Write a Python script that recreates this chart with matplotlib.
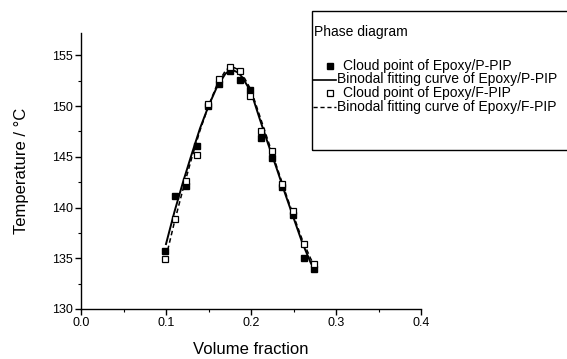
#Import Requirements
import numpy as np
import matplotlib
matplotlib.use("Agg")
import matplotlib.pyplot as plt
from matplotlib.lines import Line2D
from matplotlib.patches import Rectangle

plt.rcParams['font.family'] = ['Liberation Sans', 'DejaVu Sans']

#Data
vol = [0.099, 0.111, 0.124, 0.137, 0.149, 0.162, 0.175, 0.187,
       0.199, 0.212, 0.225, 0.237, 0.249, 0.262, 0.274]
cloud_p = [135.7, 141.1, 142.1, 146.1, 150.0, 152.2, 153.5, 152.6,
           151.6, 146.9, 144.9, 142.0, 139.3, 135.0, 133.9]
cloud_f = [134.9, 138.9, 142.6, 145.2, 150.2, 152.7, 153.8, 153.5,
           151.0, 147.5, 145.6, 142.3, 139.7, 136.4, 134.4]

fit_p_x = [0.100, 0.110, 0.120, 0.130, 0.140, 0.150, 0.160, 0.170, 0.177,
           0.185, 0.190, 0.200, 0.210, 0.220, 0.230, 0.240, 0.250, 0.260,
           0.270, 0.275]
fit_p_y = [136.4, 139.6, 142.5, 145.2, 147.8, 150.0, 151.9, 153.2, 153.6,
           153.3, 152.8, 151.4, 148.8, 146.3, 143.9, 141.4, 139.0, 136.6,
           134.6, 133.8]
fit_f_x = [0.102, 0.110, 0.120, 0.130, 0.140, 0.150, 0.160, 0.170, 0.177,
           0.185, 0.190, 0.200, 0.210, 0.220, 0.230, 0.240, 0.250, 0.260,
           0.270, 0.275]
fit_f_y = [135.8, 138.6, 141.8, 144.8, 147.6, 150.0, 152.1, 153.5, 153.9,
           153.6, 153.1, 151.6, 149.1, 146.6, 144.1, 141.6, 139.2, 136.9,
           135.0, 134.2]

legend_labels = ["Cloud point of Epoxy/P-PIP",
                 "Binodal fitting curve of Epoxy/P-PIP",
                 "Cloud point of Epoxy/F-PIP",
                 "Binodal fitting curve of Epoxy/F-PIP"]

W, H = 567, 359
fig = plt.figure(figsize=(W / 100, H / 100), dpi=100)
ax = fig.add_axes([81 / W, 1 - 309 / H, 340 / W, (309 - 33) / H])

#Graph Data
ax.plot(fit_p_x, fit_p_y, '-', color='black', lw=1.4)
ax.plot(fit_f_x, fit_f_y, '--', color='black', lw=1.1, dashes=(3, 2))
ax.plot(vol, cloud_p, 's', ms=4.5, mfc='black', mec='black')
ax.plot(vol, cloud_f, 's', ms=4.5, mfc='white', mec='black', mew=0.9)

ax.set_xlim(0, 0.4)
ax.set_ylim(130, 157.2)
ax.set_xticks(np.arange(0, 0.41, 0.1))
ax.set_xticks(np.arange(0, 0.41, 0.05), minor=True)
ax.set_yticks(np.arange(130, 156, 5))
ax.set_yticks(np.arange(130, 157, 2.5), minor=True)
ax.xaxis.set_major_formatter(plt.FormatStrFormatter('%.1f'))
for s in ['top', 'right']:
    ax.spines[s].set_visible(False)
for s in ['left', 'bottom']:
    ax.spines[s].set_linewidth(1.0)
ax.tick_params(which='major', direction='out', length=4, width=1, labelsize=9, pad=2)
ax.tick_params(which='minor', direction='out', length=2, width=0.8)
ax.set_xlabel("Volume fraction", fontsize=12, labelpad=9)
ax.set_ylabel("Temperature / °C", fontsize=12, labelpad=16)

#Legend box drawn by hand so it can run off the right edge
fig.patches.append(Rectangle((312 / W, 1 - 150 / H), 300 / W, 139 / H,
                             transform=fig.transFigure, fill=False,
                             edgecolor='black', lw=1.0))
fig.text(314 / W, 1 - 32 / H, "Phase diagram", fontsize=10, va='center')
rows = [66, 79.5, 93, 106.5]
styles = [dict(marker='s', ls='none', mfc='black', mec='black'),
          dict(ls='-', lw=1.2),
          dict(marker='s', ls='none', mfc='white', mec='black', mew=0.9),
          dict(ls='--', lw=1.0, dashes=(3, 2))]
for r, lab, st in zip(rows, legend_labels, styles):
    yy = 1 - r / H
    if 'marker' in st:
        fig.add_artist(Line2D([330 / W], [yy], color='black', ms=4.5,
                              transform=fig.transFigure, **st))
        fig.text(343 / W, yy, lab, fontsize=10, va='center')
    else:
        fig.add_artist(Line2D([313 / W, 336 / W], [yy, yy], color='black',
                              transform=fig.transFigure, **st))
        fig.text(337 / W, yy, lab, fontsize=10, va='center')

fig.savefig("out.png", dpi=100)
